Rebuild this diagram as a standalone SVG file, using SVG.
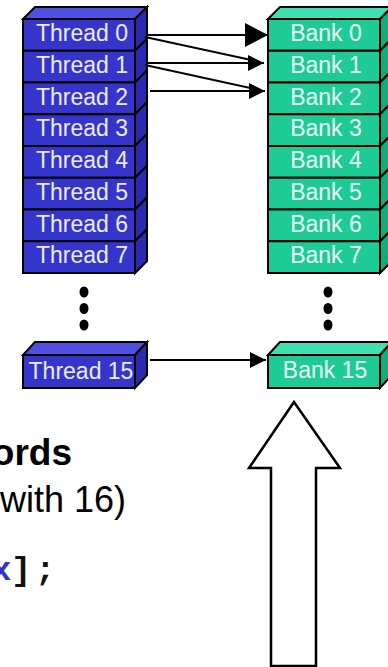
<svg xmlns="http://www.w3.org/2000/svg" width="388" height="667" viewBox="0 0 388 667">
  <style>
    .edge { stroke: #000; stroke-width: 2; fill: none; }
    .blk { stroke: #000; stroke-width: 2; stroke-linejoin: miter; }
    .tf { fill: #3535cc; }
    .tt { fill: #5050e0; }
    .ts { fill: #2a2ab0; }
    .bf { fill: #1ecb95; }
    .bt { fill: #40e0b0; }
    .bs { fill: #14aa7a; }
    .lbl { font-family: "Liberation Sans", Arial, sans-serif; font-size: 23px; text-anchor: middle; }
    .tl { fill: #ececff; }
    .bl { fill: #eafff5; }
    .dot { fill: #000; }
    .cap { font-family: "Liberation Sans", Arial, sans-serif; fill: #000; text-anchor: end; }
    .code { font-family: "Liberation Mono", "Courier New", monospace; font-size: 34px; font-weight: bold; fill: #111; }
  </style>
  <defs>
    <marker id="headBig" markerUnits="userSpaceOnUse" markerWidth="24" markerHeight="26" refX="23" refY="12" orient="auto">
      <path d="M0,0 L23,12 L0,24 z" fill="#000"/>
    </marker>
    <marker id="head" markerUnits="userSpaceOnUse" markerWidth="17" markerHeight="18" refX="16" refY="8" orient="auto">
      <path d="M0,0 L16,8 L0,16 z" fill="#000"/>
    </marker>
    <!-- one stacked row: front face plus its side slice, 112 wide, 12 deep -->
    <symbol id="rowT" overflow="visible">
      <polygon class="blk ts" points="112,0 124,-12 124,19.75 112,31.75"/>
      <rect class="blk tf" x="0" y="0" width="112" height="31.75"/>
    </symbol>
    <symbol id="rowB" overflow="visible">
      <polygon class="blk bs" points="112,0 124,-12 124,19.75 112,31.75"/>
      <rect class="blk bf" x="0" y="0" width="112" height="31.75"/>
    </symbol>
  </defs>

  <!-- thread stack -->
  <g id="threads">
    <polygon class="blk tt" points="23,19 35,7 147,7 135,19"/>
    <use href="#rowT" x="23" y="19"/>
    <use href="#rowT" x="23" y="50.75"/>
    <use href="#rowT" x="23" y="82.5"/>
    <use href="#rowT" x="23" y="114.25"/>
    <use href="#rowT" x="23" y="146"/>
    <use href="#rowT" x="23" y="177.75"/>
    <use href="#rowT" x="23" y="209.5"/>
    <use href="#rowT" x="23" y="241.25"/>
    <text class="lbl tl" x="82" y="41">Thread 0</text>
    <text class="lbl tl" x="82" y="72.75">Thread 1</text>
    <text class="lbl tl" x="82" y="104.5">Thread 2</text>
    <text class="lbl tl" x="82" y="136.25">Thread 3</text>
    <text class="lbl tl" x="82" y="168">Thread 4</text>
    <text class="lbl tl" x="82" y="199.75">Thread 5</text>
    <text class="lbl tl" x="82" y="231.5">Thread 6</text>
    <text class="lbl tl" x="82" y="263.25">Thread 7</text>
  </g>

  <!-- bank stack -->
  <g id="banks">
    <polygon class="blk bt" points="268,19 280,7 392,7 380,19"/>
    <use href="#rowB" x="268" y="19"/>
    <use href="#rowB" x="268" y="50.75"/>
    <use href="#rowB" x="268" y="82.5"/>
    <use href="#rowB" x="268" y="114.25"/>
    <use href="#rowB" x="268" y="146"/>
    <use href="#rowB" x="268" y="177.75"/>
    <use href="#rowB" x="268" y="209.5"/>
    <use href="#rowB" x="268" y="241.25"/>
    <text class="lbl bl" x="326" y="41">Bank 0</text>
    <text class="lbl bl" x="326" y="72.75">Bank 1</text>
    <text class="lbl bl" x="326" y="104.5">Bank 2</text>
    <text class="lbl bl" x="326" y="136.25">Bank 3</text>
    <text class="lbl bl" x="326" y="168">Bank 4</text>
    <text class="lbl bl" x="326" y="199.75">Bank 5</text>
    <text class="lbl bl" x="326" y="231.5">Bank 6</text>
    <text class="lbl bl" x="326" y="263.25">Bank 7</text>
  </g>

  <!-- ellipsis between row 7 and row 15 -->
  <g id="ellipsis-threads">
    <ellipse class="dot" cx="84" cy="292" rx="4.5" ry="5.5"/>
    <ellipse class="dot" cx="84" cy="308.5" rx="4.5" ry="5.5"/>
    <ellipse class="dot" cx="84" cy="325" rx="4.5" ry="5.5"/>
  </g>
  <g id="ellipsis-banks">
    <ellipse class="dot" cx="328" cy="292" rx="4.5" ry="5.5"/>
    <ellipse class="dot" cx="328" cy="308.5" rx="4.5" ry="5.5"/>
    <ellipse class="dot" cx="328" cy="325" rx="4.5" ry="5.5"/>
  </g>

  <g id="thread15">
    <polygon class="blk tt" points="23,355 35,342 147,342 135,355"/>
    <polygon class="blk ts" points="135,355 147,342 147,375 135,388"/>
    <rect class="blk tf" x="23" y="355" width="112" height="33"/>
    <text class="lbl tl" x="81" y="379">Thread 15</text>
  </g>

  <g id="bank15">
    <polygon class="blk bt" points="268,355 280,342 392,342 380,355"/>
    <polygon class="blk bs" points="380,355 392,342 392,375 380,388"/>
    <rect class="blk bf" x="268" y="355" width="112" height="33"/>
    <text class="lbl bl" x="325" y="378">Bank 15</text>
  </g>

  <!-- thread to bank accesses -->
  <g id="connectors">
    <line class="edge" x1="147" y1="35" x2="268" y2="35" marker-end="url(#headBig)"/>
    <line class="edge" x1="145" y1="37" x2="256" y2="61"/>
    <line class="edge" x1="147" y1="63" x2="264" y2="63" marker-end="url(#head)"/>
    <line class="edge" x1="145" y1="65" x2="257" y2="89.5"/>
    <line class="edge" x1="150" y1="91" x2="265" y2="91" marker-end="url(#head)"/>
    <line class="edge" x1="150" y1="360" x2="266" y2="360" marker-end="url(#head)"/>
  </g>

  <!-- hollow block arrow -->
  <g id="bigArrow">
    <polygon points="294,402 340,468 316,468 316,666 271,666 271,468 249,468" fill="#fff" stroke="#000" stroke-width="2.5" stroke-linejoin="miter"/>
  </g>

  <!-- caption text, running off the left edge -->
  <g id="caption">
    <text class="cap" x="72" y="465" font-size="37" font-weight="bold">ords</text>
    <text class="cap" x="126" y="512" font-size="36">with 16)</text>
    <text class="code" y="580"><tspan x="-9" fill="#3333cc">x</tspan><tspan x="11">]</tspan><tspan x="35">;</tspan></text>
  </g>
</svg>
